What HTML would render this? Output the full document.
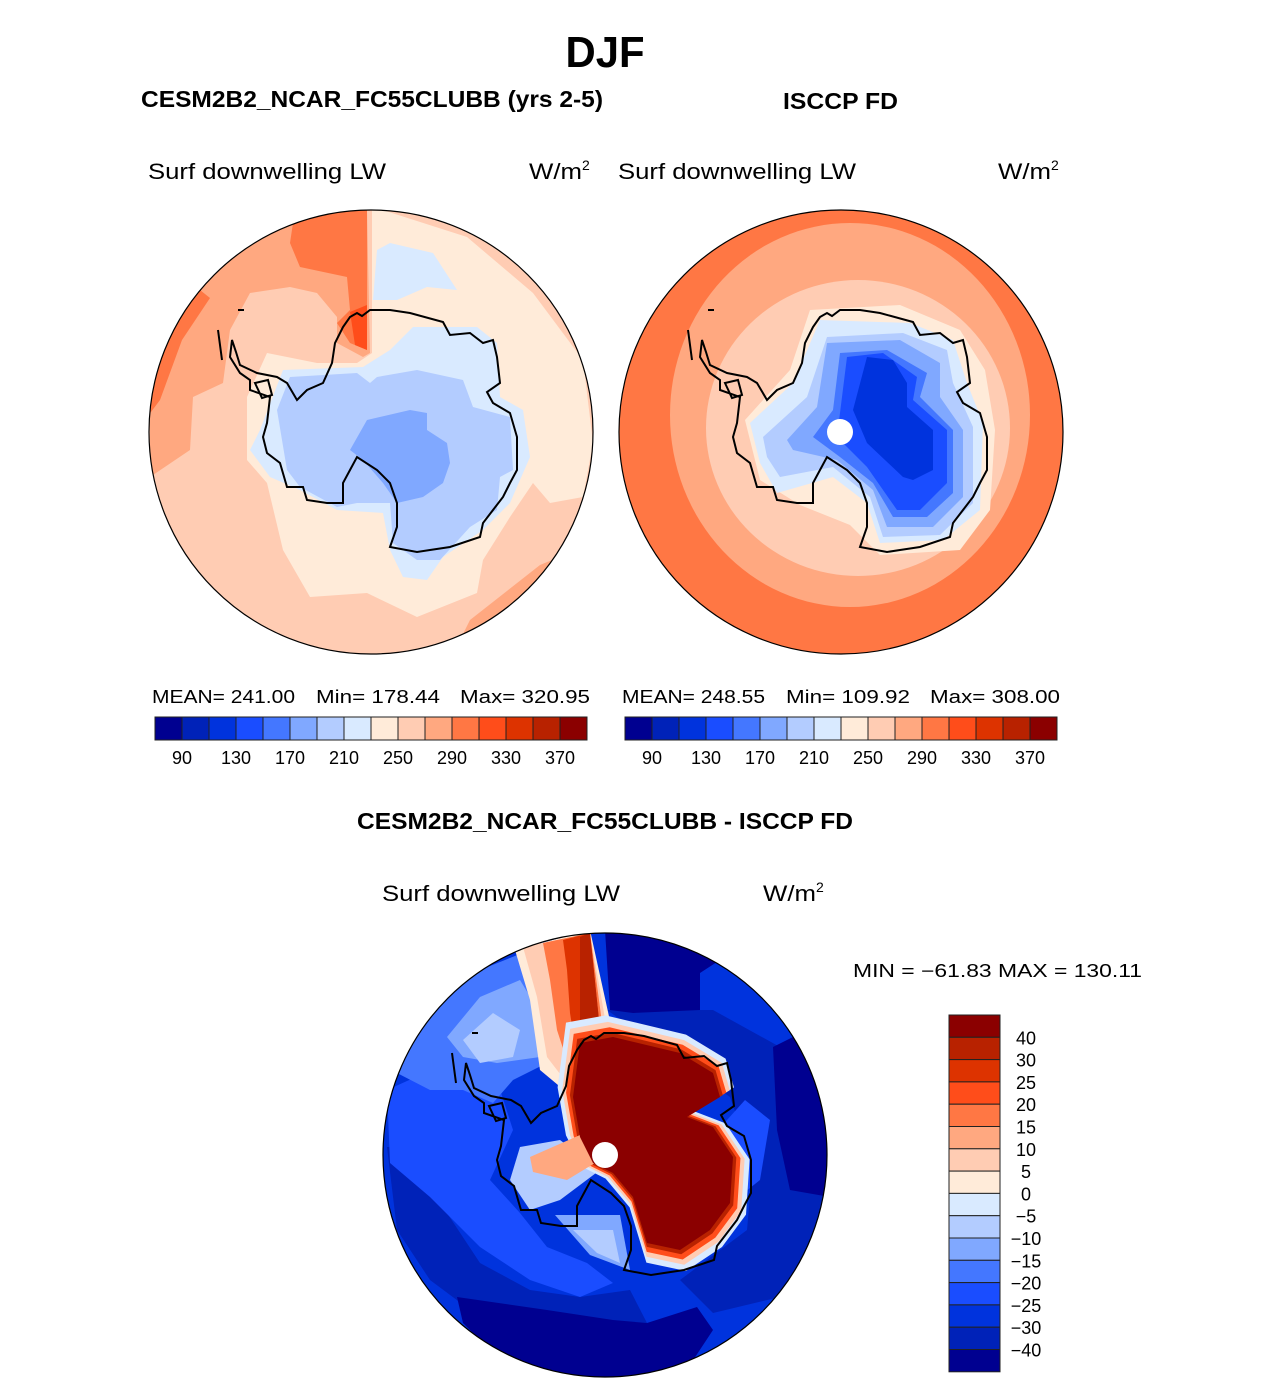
<!DOCTYPE html>
<html><head><meta charset="utf-8"><style>
html,body{margin:0;padding:0;background:#fff;}
svg{display:block;font-family:"Liberation Sans",sans-serif;}
</style></head><body>
<svg id="root" width="1285" height="1383" viewBox="0 0 1285 1383">
<defs>
<clipPath id="c1"><circle cx="371" cy="432" r="222"/></clipPath>
<clipPath id="c2"><circle cx="841" cy="432" r="222"/></clipPath>
<clipPath id="c3"><circle cx="605" cy="1155" r="222"/></clipPath>
<path id="coast" fill="none" stroke="#000" stroke-width="2" d="M350,317 L357,313 L362,316 L370,310 L390,310 L410,313 L443,322 L450,335 L470,333 L483,343 L493,340 L497,357 L500,383 L487,392 L493,403 L510,413 L517,437 L517,470 L510,483 L503,497 L493,510 L483,523 L480,537 L450,547 L430,550 L417,552 L390,547 L397,527 L397,503 L390,483 L377,470 L357,457 L350,470 L343,483 L343,503 L327,503 L307,500 L303,487 L287,487 L280,463 L267,453 L263,437 L267,423 L270,397 L250,390 L250,380 L240,373 L230,357 L232,340 L236,352 L240,365 L257,373 L277,377 L287,383 L297,400 L307,390 L323,383 L332,363 L335,343 L343,327 Z M255,383 L268,380 L272,395 L262,398 Z M238,310 L244,310 M218,330 L220,345 L222,360"/>
</defs>

<text x="605" y="67" text-anchor="middle" font-size="44" font-weight="bold" textLength="79" lengthAdjust="spacingAndGlyphs">DJF</text>
<text x="141" y="107" font-size="23" font-weight="bold" textLength="462" lengthAdjust="spacingAndGlyphs">CESM2B2_NCAR_FC55CLUBB (yrs 2-5)</text>
<text x="783" y="109" font-size="23" font-weight="bold" textLength="115" lengthAdjust="spacingAndGlyphs">ISCCP FD</text>

<text x="148" y="179" font-size="22" textLength="238" lengthAdjust="spacingAndGlyphs">Surf downwelling LW</text>
<text x="529" y="179" font-size="22"><tspan textLength="53" lengthAdjust="spacingAndGlyphs">W/m</tspan><tspan font-size="14" dy="-9">2</tspan></text>
<text x="618" y="179" font-size="22" textLength="238" lengthAdjust="spacingAndGlyphs">Surf downwelling LW</text>
<text x="998" y="179" font-size="22"><tspan textLength="53" lengthAdjust="spacingAndGlyphs">W/m</tspan><tspan font-size="14" dy="-9">2</tspan></text>

<!-- MAP 1 -->
<g clip-path="url(#c1)">
<rect x="140" y="200" width="470" height="470" fill="#FFCCB3"/>
<polygon fill="#FFA880" points="150,477 190,450 193,397 223,383 230,330 250,293 290,287 317,293 337,317 337,343 363,357 370,353 367,210 150,210"/>
<polygon fill="#FFA880" points="470,620 540,565 600,540 600,680 440,680"/>
<polygon fill="#FF7744" points="290,243 293,223 353,205 367,205 367,350 350,343 337,323 350,310 347,277 300,267"/>
<polygon fill="#FF7744" points="145,360 170,320 200,290 210,298 182,340 160,400 145,420"/>
<polygon fill="#FF4D1A" points="350,312 367,305 367,350 355,345"/>
<polygon fill="#FFEBD9" points="367,205 467,237 533,293 583,360 593,443 583,497 550,503 533,483 510,517 483,560 477,593 417,617 367,593 310,597 283,550 267,483 247,460 247,397 267,353 317,363 357,363 372,353 372,205"/>
<polygon fill="#D9EAFF" points="373,300 377,250 390,243 433,253 457,290 427,287 397,300"/>
<polygon fill="#D9EAFF" points="260,430 283,370 363,367 390,350 413,327 477,327 497,343 500,397 523,410 530,457 510,503 483,530 443,557 427,580 403,577 390,550 383,513 337,510 300,490 270,477 250,450"/>
<polygon fill="#B3CCFF" points="277,410 290,377 357,373 370,383 377,377 417,370 463,380 473,407 510,417 513,470 500,477 497,510 470,527 440,560 417,560 393,543 390,503 357,503 337,507 300,487 287,470"/>
<polygon fill="#80A8FF" points="350,450 367,420 410,410 427,413 427,430 447,443 450,463 443,483 423,497 397,503 383,483 363,460"/>
<use href="#coast"/>
</g>
<circle cx="371" cy="432" r="222" fill="none" stroke="#000" stroke-width="1.2"/>

<!-- MAP 2 -->
<g clip-path="url(#c2)">
<rect x="610" y="200" width="470" height="470" fill="#FF7744"/>
<ellipse cx="850" cy="415" rx="180" ry="192" fill="#FFA880"/>
<ellipse cx="858" cy="428" rx="152" ry="148" fill="#FFCCB3"/>
<polygon fill="#FFEBD9" points="745,420 790,370 810,310 900,305 960,330 985,370 995,430 990,510 960,550 880,555 850,525 800,505 760,480"/>
<polygon fill="#D9EAFF" points="750,423 793,383 820,320 910,323 953,340 967,383 983,423 980,510 943,540 880,543 867,503 833,477 777,493 760,463"/>
<polygon fill="#B3CCFF" points="763,437 807,397 827,337 903,333 947,350 953,383 973,427 973,503 940,535 883,537 870,497 833,467 780,477 767,457"/>
<polygon fill="#80A8FF" points="787,440 817,407 827,343 900,340 940,363 940,397 963,430 963,497 933,527 887,527 873,490 837,460 793,450"/>
<polygon fill="#4477FF" points="813,437 833,410 840,353 887,350 927,373 920,397 953,430 953,493 927,517 893,517 873,483 840,457"/>
<polygon fill="#1A4DFF" points="837,437 847,357 883,353 917,377 913,400 947,430 947,483 920,510 897,510 867,467"/>
<polygon fill="#0033DD" points="853,410 867,357 893,360 907,383 907,407 933,430 933,470 913,480 903,477 867,443"/>
<use href="#coast" transform="translate(470,0)"/>
<circle cx="840" cy="432" r="13" fill="#fff"/>
</g>
<circle cx="841" cy="432" r="222" fill="none" stroke="#000" stroke-width="1.2"/>

<g font-size="18">
<text x="152" y="703" textLength="143" lengthAdjust="spacingAndGlyphs">MEAN= 241.00</text>
<text x="316" y="703" textLength="124" lengthAdjust="spacingAndGlyphs">Min= 178.44</text>
<text x="460" y="703" textLength="130" lengthAdjust="spacingAndGlyphs">Max= 320.95</text>
</g>
<g font-size="18">
<text x="622" y="703" textLength="143" lengthAdjust="spacingAndGlyphs">MEAN= 248.55</text>
<text x="786" y="703" textLength="124" lengthAdjust="spacingAndGlyphs">Min= 109.92</text>
<text x="930" y="703" textLength="130" lengthAdjust="spacingAndGlyphs">Max= 308.00</text>
</g>
<g id="cb1"></g>
<g id="cb2"></g>

<text x="605" y="829" text-anchor="middle" font-size="23" font-weight="bold" textLength="496" lengthAdjust="spacingAndGlyphs">CESM2B2_NCAR_FC55CLUBB - ISCCP FD</text>
<text x="382" y="901" font-size="22" textLength="238" lengthAdjust="spacingAndGlyphs">Surf downwelling LW</text>
<text x="763" y="901" font-size="22"><tspan textLength="53" lengthAdjust="spacingAndGlyphs">W/m</tspan><tspan font-size="14" dy="-9">2</tspan></text>
<text x="853" y="977" font-size="18" textLength="289" lengthAdjust="spacingAndGlyphs">MIN = −61.83 MAX = 130.11</text>

<!-- MAP 3 -->
<g clip-path="url(#c3)">
<rect x="380" y="930" width="450" height="450" fill="#0033DD"/>
<polygon fill="#0022B8" points="607,1010 713,1010 780,1047 813,1030 827,1130 823,1230 780,1297 713,1313 680,1280 747,1230 753,1163 730,1097"/>
<polygon fill="#0022B8" points="387,1147 413,1147 447,1213 480,1263 530,1290 580,1297 630,1290 647,1323 580,1347 497,1330 430,1280 397,1230"/>
<polygon fill="#000090" points="605,930 700,935 720,960 700,973 700,1010 633,1013 610,1010"/>
<polygon fill="#000090" points="773,1047 807,1030 830,1130 830,1197 790,1190 777,1130"/>
<polygon fill="#000090" points="457,1297 547,1310 613,1320 647,1323 697,1307 713,1330 680,1380 520,1380 463,1323"/>
<polygon fill="#1A4DFF" points="387,1090 447,1063 497,1080 513,1130 490,1180 520,1213 547,1247 587,1263 613,1283 580,1297 530,1280 480,1247 430,1197 390,1163"/>
<polygon fill="#1A4DFF" points="700,1150 745,1100 770,1120 760,1180 735,1200"/>
<polygon fill="#4477FF" points="397,1073 430,1013 480,970 530,950 547,997 547,1063 513,1080 493,1103 463,1090 430,1090"/>
<polygon fill="#80A8FF" points="447,1037 480,997 520,980 540,1013 540,1057 497,1063 463,1057"/>
<polygon fill="#B3CCFF" points="463,1040 493,1013 520,1030 513,1057 480,1063"/>
<polygon fill="#80A8FF" points="555,1215 620,1215 630,1270 590,1255"/>
<polygon fill="#B3CCFF" points="573,1230 613,1230 620,1263 597,1253"/>
<polygon fill="#B3CCFF" points="520,1147 560,1140 600,1170 560,1200 530,1210 510,1180"/>
<polygon fill="#FFEBD9" points="515,950 590,930 612,1030 570,1095 540,1070 530,1000"/>
<polygon fill="#FFCCB3" points="523,947 590,933 607,1030 567,1083 547,1057 537,997"/>
<polygon fill="#FF7744" points="543,943 590,933 603,1030 570,1070 557,1030 550,980"/>
<polygon fill="#DD3300" points="563,940 590,933 600,1030 577,1057 570,1013 567,970"/>
<polygon fill="#B82200" points="580,937 590,933 600,1030 580,1047 580,997"/>
<g transform="translate(650,1145)">
<polygon fill="#D9EAFF" transform="scale(1.2) translate(-650,-1145)" points="580,1043 613,1037 680,1053 713,1073 720,1097 687,1117 713,1127 733,1157 730,1203 710,1230 680,1250 647,1243 633,1197 613,1173 593,1163 580,1137 573,1097"/>
<polygon fill="#FFCCB3" transform="scale(1.14) translate(-650,-1145)" points="580,1043 613,1037 680,1053 713,1073 720,1097 687,1117 713,1127 733,1157 730,1203 710,1230 680,1250 647,1243 633,1197 613,1173 593,1163 580,1137 573,1097"/>
<polygon fill="#FF4D1A" transform="scale(1.09) translate(-650,-1145)" points="580,1043 613,1037 680,1053 713,1073 720,1097 687,1117 713,1127 733,1157 730,1203 710,1230 680,1250 647,1243 633,1197 613,1173 593,1163 580,1137 573,1097"/>
<polygon fill="#B82200" transform="scale(1.04) translate(-650,-1145)" points="580,1043 613,1037 680,1053 713,1073 720,1097 687,1117 713,1127 733,1157 730,1203 710,1230 680,1250 647,1243 633,1197 613,1173 593,1163 580,1137 573,1097"/>
</g>
<polygon fill="#FFA880" points="530,1157 580,1135 595,1163 567,1180 533,1172"/>
<polygon fill="#8B0000" points="580,1043 613,1037 680,1053 713,1073 720,1097 687,1117 713,1127 733,1157 730,1203 710,1230 680,1250 647,1243 633,1197 613,1173 593,1163 580,1137 573,1097"/>
<use href="#coast" transform="translate(234,723)"/>
<circle cx="605" cy="1155" r="13" fill="#fff"/>
</g>
<circle cx="605" cy="1155" r="222" fill="none" stroke="#000" stroke-width="1.2"/>
<g id="cb3"></g>
</svg>
<script>
const absColors = ["#000090","#0022B8","#0033DD","#1A4DFF","#4477FF","#80A8FF","#B3CCFF","#D9EAFF","#FFEBD9","#FFCCB3","#FFA880","#FF7744","#FF4D1A","#DD3300","#B82200","#8B0000"];
const absTickLabels = ["90","130","170","210","250","290","330","370"];
const diffColors = ["#8B0000","#B82200","#DD3300","#FF4D1A","#FF7744","#FFA880","#FFCCB3","#FFEBD9","#D9EAFF","#B3CCFF","#80A8FF","#4477FF","#1A4DFF","#0033DD","#0022B8","#000090"];
const diffTickLabels = ["40","30","25","20","15","10","5","0","−5","−10","−15","−20","−25","−30","−40"];
const NS = "http://www.w3.org/2000/svg";
function mk(tag, attrs, parent){const e=document.createElementNS(NS,tag);for(const k in attrs)e.setAttribute(k,attrs[k]);parent.appendChild(e);return e;}
function hbar(id, x0){
  const g=document.getElementById(id);
  const w=27, y=717, h=23;
  absColors.forEach((c,i)=>{
    const r=mk("rect",{x:x0+i*w,y:y,width:w,height:h,fill:c,stroke:"#222","stroke-width":1},g);
    
    
  });
  absTickLabels.forEach((t,i)=>{
    const tx=mk("text",{x:x0+(2*i+1)*w,y:764,"text-anchor":"middle","font-size":18},g);
    tx.textContent=t;
    
    
  });
}
hbar("cb1",155);
hbar("cb2",625);
(function(){
  const g=document.getElementById("cb3");
  const x=949, y0=1015, w=51, h=22.3;
  diffColors.forEach((c,i)=>{
    const r=mk("rect",{x:x,y:y0+i*h,width:w,height:h,fill:c,stroke:"#222","stroke-width":1},g);
    
    
  });
  diffTickLabels.forEach((t,i)=>{
    const tx=mk("text",{x:1026,y:y0+(i+1)*h+7,"text-anchor":"middle","font-size":18},g);
    tx.textContent=t;
    
    
  });
})();
</script>
</body></html>
